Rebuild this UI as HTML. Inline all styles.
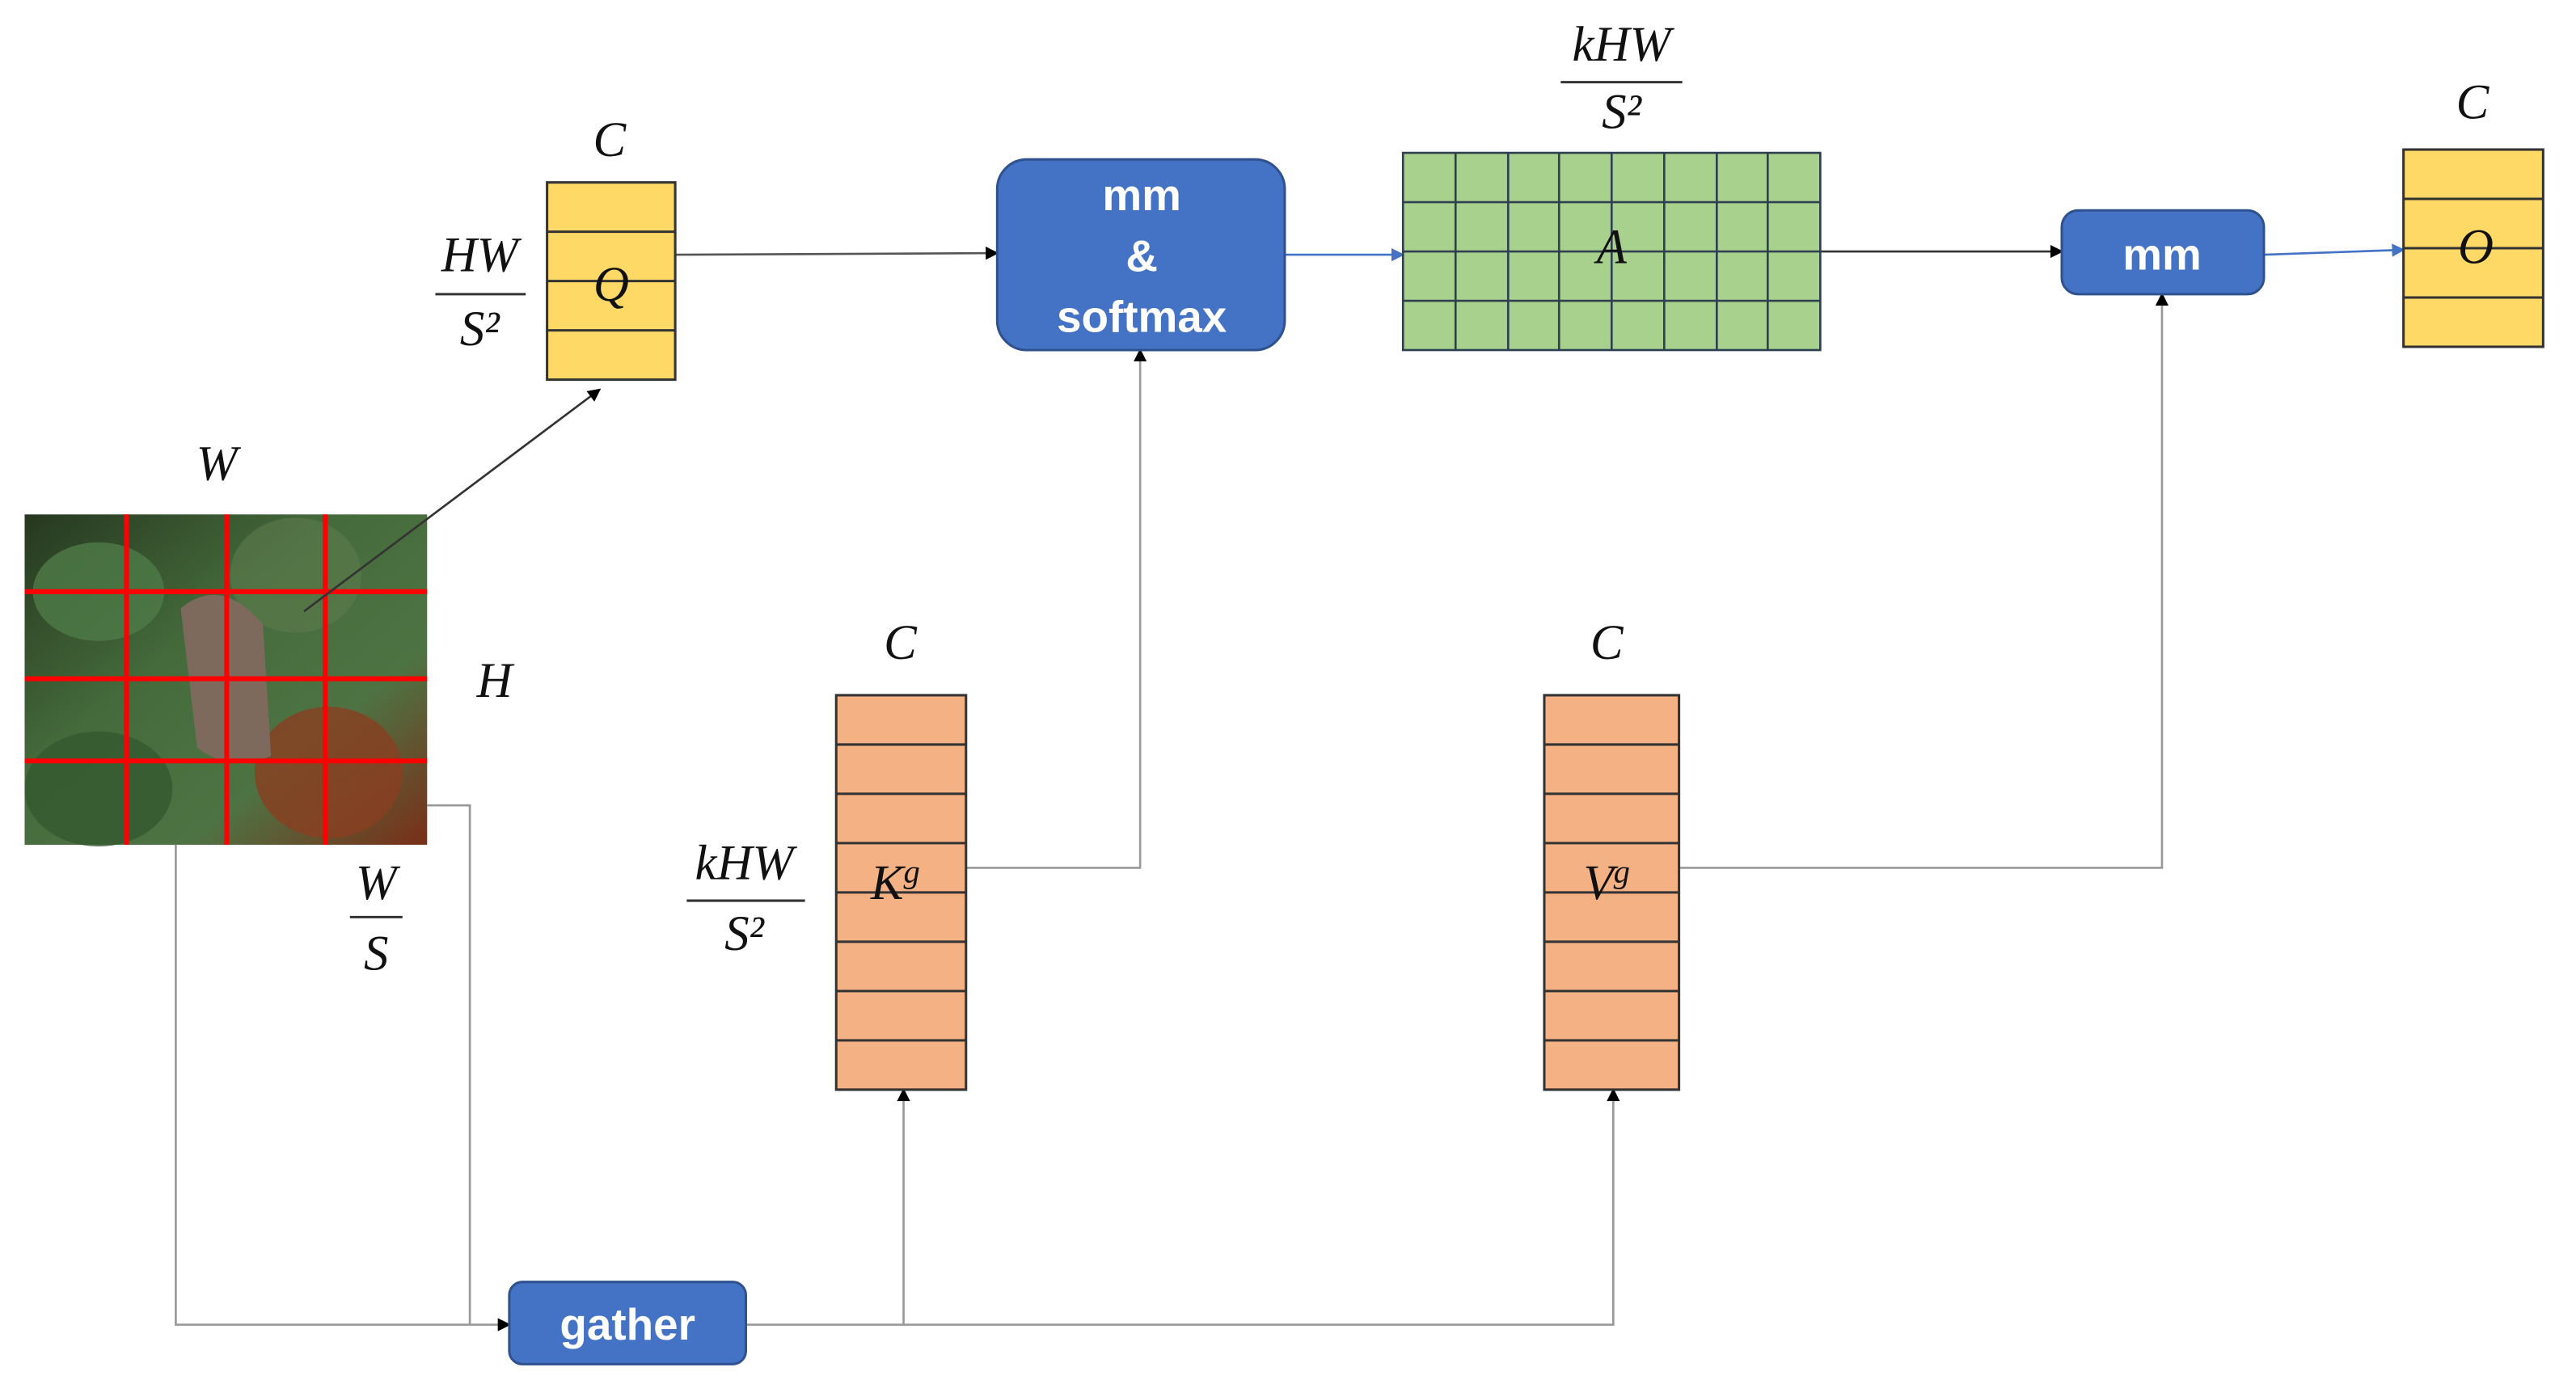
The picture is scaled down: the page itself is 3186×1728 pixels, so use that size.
<!DOCTYPE html>
<html><head><meta charset="utf-8"><style>
html,body{margin:0;padding:0;background:#fff;}
svg{display:block;}
.m{font-family:"Liberation Serif",serif;font-style:italic;font-size:30px;fill:#111;}
.b{font-family:"Liberation Sans",sans-serif;font-weight:bold;font-size:27px;fill:#fff;}
</style></head><body>
<svg width="3186" height="1728" viewBox="0 0 1568 850" preserveAspectRatio="none" xmlns="http://www.w3.org/2000/svg">
<defs>
<marker id="ak" markerWidth="8" markerHeight="8" refX="7" refY="4" orient="auto" markerUnits="userSpaceOnUse"><path d="M0,0 L8,4 L0,8 z" fill="#000"/></marker>
<marker id="ab" markerWidth="8" markerHeight="8" refX="7" refY="4" orient="auto" markerUnits="userSpaceOnUse"><path d="M0,0 L8,4 L0,8 z" fill="#4472C4"/></marker>
<linearGradient id="g1" x1="0" y1="0" x2="1" y2="1"><stop offset="0" stop-color="#26381f"/><stop offset="0.4" stop-color="#456b3c"/><stop offset="0.7" stop-color="#4e7343"/><stop offset="1" stop-color="#7a2e18"/></linearGradient>
</defs>
<rect x="15" y="313" width="245" height="201" fill="url(#g1)"/>
<ellipse cx="60" cy="360" rx="40" ry="30" fill="#4f7a47" opacity="0.8"/>
<ellipse cx="200" cy="470" rx="45" ry="40" fill="#8a3f20" opacity="0.8"/>
<ellipse cx="60" cy="480" rx="45" ry="35" fill="#35592f" opacity="0.8"/>
<ellipse cx="180" cy="350" rx="40" ry="35" fill="#5d7c4d" opacity="0.6"/>
<path d="M110,370 Q135,350 160,380 L165,460 Q140,470 120,455 Z" fill="#7d6a5c"/>
<g stroke="#ff0000" stroke-width="3">
<line x1="77" y1="313" x2="77" y2="514"/><line x1="138" y1="313" x2="138" y2="514"/><line x1="198" y1="313" x2="198" y2="514"/>
<line x1="15" y1="360" x2="260" y2="360"/><line x1="15" y1="413" x2="260" y2="413"/><line x1="15" y1="463" x2="260" y2="463"/>
</g>
<text class="m" x="132" y="292" text-anchor="middle">W</text>
<text class="m" x="301" y="424" text-anchor="middle">H</text>
<text class="m" x="229" y="547" text-anchor="middle">W</text>
<line x1="213" y1="558" x2="245" y2="558" stroke="#333" stroke-width="1.5"/>
<text class="m" x="229" y="590" text-anchor="middle">S</text>
<g fill="none" stroke="#999" stroke-width="1.3">
<line x1="185" y1="372" x2="365" y2="237" stroke="#333" marker-end="url(#ak)"/>
<line x1="411" y1="155" x2="607" y2="154" stroke="#555" marker-end="url(#ak)"/>
<line x1="782" y1="155" x2="854" y2="155" stroke="#4472C4" marker-end="url(#ab)"/>
<line x1="1108" y1="153" x2="1255" y2="153" stroke="#333" marker-end="url(#ak)"/>
<line x1="1378" y1="155" x2="1463" y2="152" stroke="#4472C4" marker-end="url(#ab)"/>
<polyline points="588,528 694,528 694,213" marker-end="url(#ak)"/>
<polyline points="1022,528 1316,528 1316,179" marker-end="url(#ak)"/>
<polyline points="107,514 107,806 310,806" marker-end="url(#ak)"/>
<polyline points="260,490 286,490 286,806"/>
<polyline points="454,806 982,806 982,663" marker-end="url(#ak)"/>
<line x1="550" y1="806" x2="550" y2="663" marker-end="url(#ak)"/>
</g>
<text class="m" x="371" y="95" text-anchor="middle">C</text>
<text class="m" x="292" y="165" text-anchor="middle">HW</text>
<line x1="265" y1="179" x2="320" y2="179" stroke="#333" stroke-width="1.5"/>
<text class="m" x="292" y="210" text-anchor="middle">S²</text>
<g stroke="#333" stroke-width="1.5" fill="#FFD966">
<rect x="333" y="111" width="78" height="120"/>
<line x1="333" y1="141" x2="411" y2="141"/><line x1="333" y1="171" x2="411" y2="171"/><line x1="333" y1="201" x2="411" y2="201"/>
</g>
<text class="m" x="372" y="183" text-anchor="middle">Q</text>
<rect x="607" y="97" width="175" height="116" rx="18" fill="#4472C4" stroke="#2F528F" stroke-width="1.5"/>
<text class="b" x="695" y="128" text-anchor="middle">mm</text>
<text class="b" x="695" y="165" text-anchor="middle">&amp;</text>
<text class="b" x="695" y="202" text-anchor="middle">softmax</text>
<text class="m" x="987" y="37" text-anchor="middle">kHW</text>
<line x1="950" y1="50" x2="1024" y2="50" stroke="#333" stroke-width="1.5"/>
<text class="m" x="987" y="78" text-anchor="middle">S²</text>
<g stroke="#2f4050" stroke-width="1.3" fill="#A9D18E">
<rect x="854" y="93" width="254" height="120"/>
<line x1="886" y1="93" x2="886" y2="213"/><line x1="918" y1="93" x2="918" y2="213"/><line x1="949" y1="93" x2="949" y2="213"/><line x1="981" y1="93" x2="981" y2="213"/><line x1="1013" y1="93" x2="1013" y2="213"/><line x1="1045" y1="93" x2="1045" y2="213"/><line x1="1076" y1="93" x2="1076" y2="213"/>
<line x1="854" y1="123" x2="1108" y2="123"/><line x1="854" y1="153" x2="1108" y2="153"/><line x1="854" y1="183" x2="1108" y2="183"/>
</g>
<text class="m" x="981" y="160" text-anchor="middle">A</text>
<rect x="1255" y="128" width="123" height="51" rx="10" fill="#4472C4" stroke="#2F528F" stroke-width="1.5"/>
<text class="b" x="1316" y="164" text-anchor="middle">mm</text>
<text class="m" x="1505" y="72" text-anchor="middle">C</text>
<g stroke="#333" stroke-width="1.5" fill="#FFD966">
<rect x="1463" y="91" width="85" height="120"/>
<line x1="1463" y1="121" x2="1548" y2="121"/><line x1="1463" y1="151" x2="1548" y2="151"/><line x1="1463" y1="181" x2="1548" y2="181"/>
</g>
<text class="m" x="1507" y="160" text-anchor="middle">O</text>
<text class="m" x="548" y="401" text-anchor="middle">C</text>
<text class="m" x="453" y="535" text-anchor="middle">kHW</text>
<line x1="418" y1="548" x2="490" y2="548" stroke="#333" stroke-width="1.5"/>
<text class="m" x="453" y="578" text-anchor="middle">S²</text>
<g stroke="#333" stroke-width="1.5" fill="#F4B183">
<rect x="509" y="423" width="79" height="240"/>
<line x1="509" y1="453" x2="588" y2="453"/><line x1="509" y1="483" x2="588" y2="483"/><line x1="509" y1="513" x2="588" y2="513"/><line x1="509" y1="543" x2="588" y2="543"/><line x1="509" y1="573" x2="588" y2="573"/><line x1="509" y1="603" x2="588" y2="603"/><line x1="509" y1="633" x2="588" y2="633"/>
</g>
<text class="m" x="545" y="547" text-anchor="middle">K<tspan font-size="20" dy="-10">g</tspan></text>
<text class="m" x="978" y="401" text-anchor="middle">C</text>
<g stroke="#333" stroke-width="1.5" fill="#F4B183">
<rect x="940" y="423" width="82" height="240"/>
<line x1="940" y1="453" x2="1022" y2="453"/><line x1="940" y1="483" x2="1022" y2="483"/><line x1="940" y1="513" x2="1022" y2="513"/><line x1="940" y1="543" x2="1022" y2="543"/><line x1="940" y1="573" x2="1022" y2="573"/><line x1="940" y1="603" x2="1022" y2="603"/><line x1="940" y1="633" x2="1022" y2="633"/>
</g>
<text class="m" x="978" y="547" text-anchor="middle">V<tspan font-size="20" dy="-10">g</tspan></text>
<rect x="310" y="780" width="144" height="50" rx="8" fill="#4472C4" stroke="#2F528F" stroke-width="1.5"/>
<text class="b" x="382" y="815" text-anchor="middle">gather</text>
</svg>
</body></html>
